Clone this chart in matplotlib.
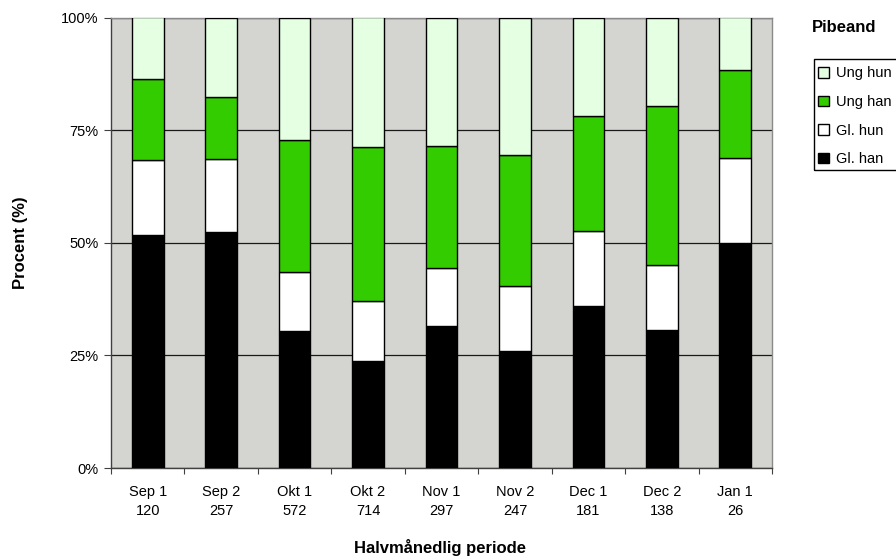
import matplotlib
matplotlib.use("Agg")
import matplotlib.pyplot as plt
import numpy as np
from matplotlib.patches import Rectangle, Patch

plt.rcParams['font.family'] = ['Liberation Sans', 'DejaVu Sans']

categories = ["Sep 1", "Sep 2", "Okt 1", "Okt 2", "Nov 1", "Nov 2", "Dec 1", "Dec 2", "Jan 1"]
counts = ["120", "257", "572", "714", "297", "247", "181", "138", "26"]

gl_han = [51.7, 52.3, 30.3, 23.7, 31.6, 26.0, 35.9, 30.7, 50.0]
gl_hun = [16.6, 16.3, 13.2, 13.3, 12.7, 14.4, 16.6, 14.3, 18.9]
ung_han = [18.0, 13.7, 29.4, 34.3, 27.2, 29.1, 25.6, 35.3, 19.4]
ung_hun = [13.7, 17.7, 27.1, 28.7, 28.5, 30.5, 21.9, 19.7, 11.7]

series = [("Gl. han", gl_han, "#000000"),
          ("Gl. hun", gl_hun, "#FFFFFF"),
          ("Ung han", ung_han, "#33CC00"),
          ("Ung hun", ung_hun, "#E5FFE2")]

W, H = 896, 556
fig = plt.figure(figsize=(W / 100, H / 100), dpi=100)
ax = fig.add_axes([111 / W, 1 - 468 / H, (772 - 111) / W, (468 - 17.5) / H])
ax.set_facecolor("#D4D5D0")

x = np.arange(len(categories))
bottom = np.zeros(len(categories))
for name, vals, col in series:
    vals = np.array(vals)
    ax.bar(x, vals, 0.43, bottom=bottom, color=col, edgecolor="black",
           linewidth=1.0, label=name, zorder=3)
    bottom += vals

ax.set_xlim(-0.5, len(categories) - 0.5)
ax.set_ylim(0, 100)
ax.set_yticks([0, 25, 50, 75, 100])
ax.set_yticklabels(["0%", "25%", "50%", "75%", "100%"], fontsize=10.5)
ax.yaxis.grid(True, color="#1a1a1a", linewidth=0.9, zorder=1)
ax.set_axisbelow(True)

ax.set_xticks(np.arange(-0.5, len(categories), 1.0))
ax.set_xticklabels([])
ax.set_xticks(x, minor=True)
ax.set_xticklabels([f"{c}\n{n}" for c, n in zip(categories, counts)], minor=True,
                   fontsize=10.5, linespacing=1.45)
ax.tick_params(axis="x", which="minor", length=0, pad=12)
ax.tick_params(axis="x", which="major", length=4, direction="out", color="#404040")
ax.tick_params(axis="y", length=5, direction="out", color="#404040", pad=4)

for s in ["left", "bottom"]:
    ax.spines[s].set_color("#404040")
    ax.spines[s].set_linewidth(1.0)
for s in ["right", "top"]:
    ax.spines[s].set_color("#8a8a8a")
    ax.spines[s].set_linewidth(1.0)

fig.text(440 / W, 1 - 547 / H, "Halvmånedlig periode", ha="center", va="center",
         fontsize=12, fontweight="bold")
fig.text(21 / W, 1 - 243 / H, "Procent (%)", ha="center", va="center",
         rotation=90, fontsize=12, fontweight="bold")

# legend title and box
fig.text(812 / W, 1 - 28 / H, "Pibeand", ha="left", va="center",
         fontsize=12, fontweight="bold")
fig.patches.append(Rectangle((814 / W, 1 - 170 / H), 100 / W, (170 - 59) / H,
                             transform=fig.transFigure, fill=False,
                             edgecolor="black", linewidth=1.0, clip_on=False))
handles = [Patch(facecolor=col, edgecolor="black", linewidth=1.0, label=name)
           for name, vals, col in series][::-1]
fig.legend(handles=handles, loc="upper left", bbox_to_anchor=(814 / W, 1 - 62 / H),
           frameon=False, fontsize=10.5, handlelength=0.75, handleheight=0.75,
           handletextpad=0.45, labelspacing=1.0, borderaxespad=0, borderpad=0.3)

fig.savefig("out.png", dpi=100)
